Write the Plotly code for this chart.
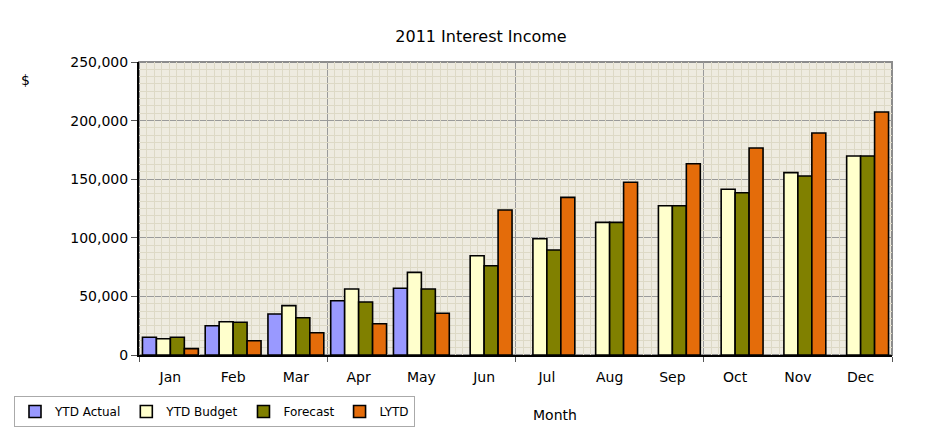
import plotly.graph_objects as go

months = ["Jan", "Feb", "Mar", "Apr", "May", "Jun", "Jul", "Aug", "Sep", "Oct", "Nov", "Dec"]
ytd_actual = [15100, 25000, 35000, 46300, 56900, None, None, None, None, None, None, None]
ytd_budget = [13900, 28400, 42100, 56300, 70500, 84700, 99200, 113200, 127400, 141400, 155600, 169800]
forecast = [15100, 27900, 31800, 45200, 56300, 76200, 89600, 113200, 127400, 138500, 152700, 169800]
lytd = [5400, 12200, 19000, 26700, 35600, 123700, 134500, 147400, 163200, 176600, 189400, 207300]

series_names = ["YTD Actual", "YTD Budget", "Forecast", "LYTD"]
series_values = [ytd_actual, ytd_budget, forecast, lytd]
series_colors = ["#9999FF", "#FFFFCC", "#808000", "#E46C0A"]

xpos = list(range(len(months)))
n = len(months)

fig = go.Figure()
for name, vals, col in zip(series_names, series_values, series_colors):
    fig.add_trace(go.Bar(
        x=xpos, y=vals, name=name,
        marker=dict(color=col, line=dict(color="black", width=1.6)),
    ))

# dummy trace for overlay axis carrying the fine vertical grid
fig.add_trace(go.Scatter(x=[-0.5, n - 0.5], y=[None, None], xaxis="x2", mode="none",
                         showlegend=False, hoverinfo="skip"))

major_x = [-0.5 + 3 * k for k in range(n // 3 + 1)]
fine_x = [-0.5 + 0.12 * k for k in range(int(n / 0.12) + 1)]
fine_x = [v for v in fine_x if min(abs(v - m) for m in major_x) > 0.01]

font = "DejaVu Sans, Verdana, sans-serif"

# page body has an 8px default margin -> shift everything by -8px
OFF = 8
PL, PT, PR, PB = 139, 62, 892, 355  # plot area in reference pixels
W, H = 949, 437


def px(xr):
    return (xr - PL) / (PR - PL)


def py(yr):
    return (PB - yr) / (PB - PT)


fig.update_layout(
    width=W, height=H,
    margin=dict(l=PL - OFF, r=W - (PR - OFF), t=PT - OFF, b=H - (PB - OFF), autoexpand=False),
    paper_bgcolor="white",
    plot_bgcolor="#EEEBE0",
    barmode="group",
    bargap=0.11,
    bargroupgap=0,
    font=dict(family=font, size=14, color="black"),
    title=dict(text="2011 Interest Income", x=(481 - OFF) / W, xanchor="center", xref="container",
               y=1 - (36 - OFF) / H, yanchor="middle", yref="container",
               font=dict(family=font, size=16, color="black")),
    xaxis=dict(
        range=[-0.5, n - 0.5],
        tickmode="array", tickvals=xpos, ticktext=months,
        ticks="", showgrid=False, zeroline=False,
        showline=True, linecolor="black", linewidth=2,
        tickfont=dict(size=14), ticklabelstandoff=8,
        minor=dict(tickmode="array", tickvals=major_x, showgrid=True,
                   gridcolor="#9A9A9A", gridwidth=1,
                   ticks="outside", ticklen=5, tickcolor="#555"),
    ),
    xaxis2=dict(
        overlaying="x", matches="x", range=[-0.5, n - 0.5],
        tickmode="array", tickvals=fine_x, showticklabels=False,
        ticks="", showgrid=True, gridcolor="#DDD9C6", gridwidth=1,
        zeroline=False, showline=False,
    ),
    yaxis=dict(
        range=[0, 250000], dtick=50000, tickformat=",",
        ticks="outside", ticklen=6, tickcolor="#555",
        showgrid=True, gridcolor="#9A9A9A", gridwidth=1,
        zeroline=False, showline=True, linecolor="black", linewidth=2,
        tickfont=dict(size=14),
        minor=dict(dtick=6250, showgrid=True, gridcolor="#DDD9C6", gridwidth=1),
    ),
    legend=dict(
        orientation="h", x=px(14), xanchor="left",
        y=py(396), yanchor="top",
        bordercolor="#AAAAAA", borderwidth=1, bgcolor="white",
        font=dict(size=12), itemwidth=30, tracegroupgap=0,
    ),
    showlegend=True,
)

fig.add_annotation(text="$", xref="paper", yref="paper",
                   x=px(25), y=py(80), xanchor="center", yanchor="middle",
                   showarrow=False, font=dict(size=14))
fig.add_annotation(text="Month", xref="paper", yref="paper",
                   x=px(555), y=py(415), xanchor="center", yanchor="middle",
                   showarrow=False, font=dict(size=14))

# plot area border (top/right gray)
fig.add_shape(type="rect", xref="paper", yref="paper", x0=0, x1=1, y0=0, y1=1,
              line=dict(color="#8C8C8C", width=2), layer="below")
# outer chart border
fig.add_shape(type="rect", xref="paper", yref="paper",
              x0=px(5), x1=px(965), y0=py(470), y1=py(7),
              line=dict(color="#AAAAAA", width=1), layer="below")

fig.write_html("out.html")
